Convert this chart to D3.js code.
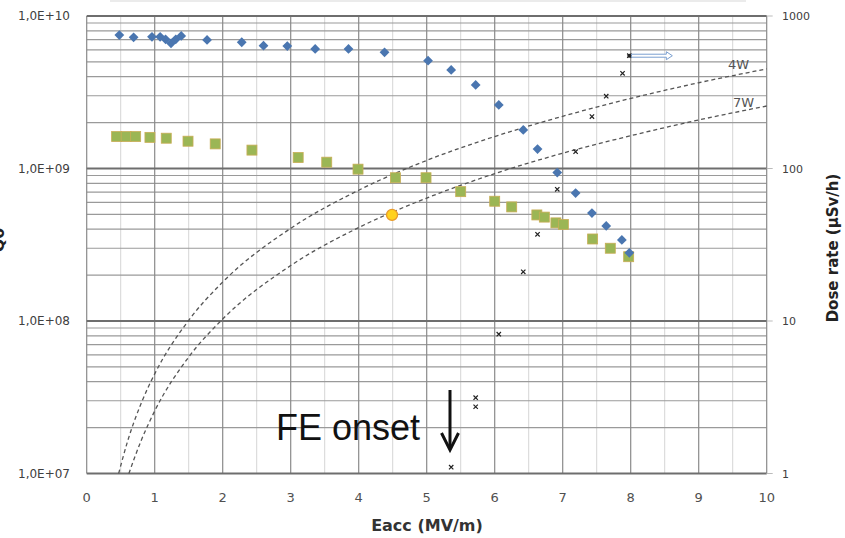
<!DOCTYPE html>
<html>
<head>
<meta charset="utf-8">
<script src="https://cdn.jsdelivr.net/npm/d3@7"></script>
<style>
  body { margin: 0; background: #fff; }
  svg { display: block; }
</style>
</head>
<body>
<div id="chart"></div>
<script>
// Q0 vs Eacc (left axis) and dose rate (right axis)
const eaccQ1 = [0.48, 0.69, 0.96, 1.08, 1.16, 1.24, 1.31, 1.39, 1.77, 2.28, 2.6, 2.95, 3.36, 3.85, 4.38, 5.02, 5.36, 5.72, 6.06, 6.42, 6.63, 6.92, 7.19, 7.43, 7.64, 7.87, 7.98];
const q1 = [7.5e9, 7.25e9, 7.3e9, 7.3e9, 7.03e9, 6.62e9, 7.03e9, 7.4e9, 6.97e9, 6.73e9, 6.39e9, 6.35e9, 6.08e9, 6.08e9, 5.78e9, 5.09e9, 4.43e9, 3.53e9, 2.61e9, 1.79e9, 1.34e9, 9.4e8, 6.9e8, 5.1e8, 4.2e8, 3.4e8, 2.8e8];

const eaccQ2 = [0.44, 0.58, 0.72, 0.93, 1.17, 1.49, 1.89, 2.43, 3.11, 3.53, 3.99, 4.54, 4.99, 5.5, 6.0, 6.25, 6.62, 6.73, 6.9, 7.01, 7.44, 7.7, 7.97];
const q2 = [1.62e9, 1.62e9, 1.62e9, 1.6e9, 1.58e9, 1.51e9, 1.45e9, 1.32e9, 1.18e9, 1.1e9, 9.9e8, 8.7e8, 8.7e8, 7.05e8, 6.1e8, 5.6e8, 4.96e8, 4.8e8, 4.4e8, 4.3e8, 3.45e8, 3.0e8, 2.64e8];

const eaccFE = [4.49];
const qFE = [4.96e8];

const eaccDose = [5.36, 5.72, 5.72, 6.06, 6.42, 6.63, 6.92, 7.19, 7.43, 7.64, 7.88, 7.98];
const dose = [1.1, 2.74, 3.14, 8.2, 21, 37, 73, 129, 219, 298, 421, 549];

const eacc4W = [0.47, 0.6, 0.8, 1, 1.5, 2, 3, 4, 5, 6, 7, 8, 9, 10];
const q4W = [1.0e7, 1.62e7, 2.88e7, 4.5e7, 1.01e8, 1.8e8, 4.05e8, 7.2e8, 1.13e9, 1.62e9, 2.2e9, 2.88e9, 3.65e9, 4.5e9];
const eacc7W = [0.62, 0.8, 1, 1.5, 2, 3, 4, 5, 6, 7, 8, 9, 10];
const q7W = [1.0e7, 1.64e7, 2.57e7, 5.8e7, 1.03e8, 2.31e8, 4.1e8, 6.4e8, 9.25e8, 1.26e9, 1.64e9, 2.08e9, 2.57e9];

const xTicks = [0, 1, 2, 3, 4, 5, 6, 7, 8, 9, 10];
const qTicks = [1e7, 1e8, 1e9, 1e10];
const qTickLabels = ["1,0E+07", "1,0E+08", "1,0E+09", "1,0E+10"];
const doseTicks = [1, 10, 100, 1000];

const width = 845, height = 538;
const plotLeft = 86.7, plotRight = 766.7, plotTop = 16, plotBottom = 473.5;

const svg = d3.select("#chart").append("svg")
    .attr("width", width)
    .attr("height", height);

svg.append("rect").attr("width", width).attr("height", height).attr("fill", "#fff");

const x = d3.scaleLinear().domain([0, 10]).range([plotLeft, plotRight]);
const yQ = d3.scaleLog().domain([1e7, 1e10]).range([plotBottom, plotTop]);
const yD = d3.scaleLog().domain([1, 1000]).range([plotBottom, plotTop]);

// faint remnant line at very top
svg.append("line")
    .attr("x1", 110).attr("x2", 746).attr("y1", 1).attr("y2", 1)
    .attr("stroke", "#e4e4e4").attr("stroke-width", 1.5);

// vertical grid
const grid = svg.append("g");
grid.selectAll(".vminor")
    .data(d3.range(0.5, 10, 1))
    .enter().append("line")
    .attr("x1", d => x(d)).attr("x2", d => x(d))
    .attr("y1", plotTop).attr("y2", plotBottom)
    .attr("stroke", "#d6d6d6").attr("stroke-width", 1);

// horizontal grid (log minors)
const minorQ = yQ.ticks().filter(d => qTicks.indexOf(d) < 0);
grid.selectAll(".hminor")
    .data(minorQ)
    .enter().append("line")
    .attr("x1", plotLeft).attr("x2", plotRight)
    .attr("y1", d => yQ(d)).attr("y2", d => yQ(d))
    .attr("stroke", "#9a9a9a").attr("stroke-width", 1.2);

grid.selectAll(".vmajor")
    .data(xTicks)
    .enter().append("line")
    .attr("x1", d => x(d)).attr("x2", d => x(d))
    .attr("y1", plotTop).attr("y2", plotBottom)
    .attr("stroke", "#8a8a8a").attr("stroke-width", 1.2);

grid.selectAll(".hmajor")
    .data(qTicks)
    .enter().append("line")
    .attr("x1", plotLeft).attr("x2", plotRight)
    .attr("y1", d => yQ(d)).attr("y2", d => yQ(d))
    .attr("stroke", "#6e6e6e").attr("stroke-width", 1.8);

// right ticks
svg.selectAll(".rtick")
    .data(doseTicks)
    .enter().append("line")
    .attr("x1", plotRight).attr("x2", plotRight + 6)
    .attr("y1", d => yD(d)).attr("y2", d => yD(d))
    .attr("stroke", "#bbb");

// tick labels
svg.selectAll(".qlab")
    .data(qTicks)
    .enter().append("text")
    .attr("x", 70).attr("y", d => yQ(d) + 4)
    .attr("text-anchor", "end")
    .attr("font-family", "DejaVu Sans").attr("font-size", 12)
    .attr("fill", "#404040")
    .text((d, i) => qTickLabels[i]);

svg.selectAll(".dlab")
    .data(doseTicks)
    .enter().append("text")
    .attr("x", 782).attr("y", d => yD(d) + 4)
    .attr("font-family", "DejaVu Sans").attr("font-size", 11)
    .attr("fill", "#404040")
    .text(d => d);

svg.selectAll(".xlab")
    .data(xTicks)
    .enter().append("text")
    .attr("x", d => x(d)).attr("y", 502)
    .attr("text-anchor", "middle")
    .attr("font-family", "DejaVu Sans").attr("font-size", 13)
    .attr("fill", "#505050")
    .text(d => d);

// axis titles
svg.append("text")
    .attr("x", 427).attr("y", 531)
    .attr("text-anchor", "middle")
    .attr("font-family", "DejaVu Sans").attr("font-weight", "bold").attr("font-size", 16)
    .attr("fill", "#333")
    .text("Eacc (MV/m)");

svg.append("text")
    .attr("transform", "translate(838,248) rotate(-90)")
    .attr("text-anchor", "middle")
    .attr("font-family", "DejaVu Sans").attr("font-weight", "bold").attr("font-size", 15)
    .attr("fill", "#222")
    .text("Dose rate (µSv/h)");

svg.append("text")
    .attr("transform", "translate(4,240) rotate(-90)")
    .attr("text-anchor", "middle")
    .attr("font-family", "DejaVu Sans").attr("font-weight", "bold").attr("font-size", 16)
    .attr("fill", "#222")
    .text("Q0");

// constant power curves
const powerLine = d3.line()
    .x(d => x(d[0])).y(d => yQ(d[1]))
    .curve(d3.curveMonotoneX);

svg.append("path")
    .attr("d", powerLine(d3.zip(eacc4W, q4W)))
    .attr("fill", "none").attr("stroke", "#555")
    .attr("stroke-width", 1.3).attr("stroke-dasharray", "4,3");
svg.append("path")
    .attr("d", powerLine(d3.zip(eacc7W, q7W)))
    .attr("fill", "none").attr("stroke", "#555")
    .attr("stroke-width", 1.3).attr("stroke-dasharray", "4,3");

svg.append("text")
    .attr("x", 728).attr("y", 69)
    .attr("font-family", "DejaVu Sans").attr("font-size", 13)
    .attr("fill", "#555").text("4W");
svg.append("text")
    .attr("x", 733).attr("y", 107)
    .attr("font-family", "DejaVu Sans").attr("font-size", 13)
    .attr("fill", "#555").text("7W");

// green squares
svg.selectAll(".sq")
    .data(d3.zip(eaccQ2, q2))
    .enter().append("rect")
    .attr("x", d => x(d[0]) - 5).attr("y", d => yQ(d[1]) - 5)
    .attr("width", 10).attr("height", 10)
    .attr("fill", "#9bb655").attr("stroke", "#c9ad55").attr("stroke-width", 0.8);

// blue diamonds (square turned 45 degrees)
const diamond = d3.symbol().type(d3.symbolSquare).size(48);
svg.selectAll(".dm")
    .data(d3.zip(eaccQ1, q1))
    .enter().append("path")
    .attr("d", diamond)
    .attr("transform", d => `translate(${x(d[0])},${yQ(d[1])}) rotate(45)`)
    .attr("fill", "#4a76b0");

// FE onset point
svg.selectAll(".fe")
    .data(d3.zip(eaccFE, qFE))
    .enter().append("circle")
    .attr("cx", d => x(d[0])).attr("cy", d => yQ(d[1]))
    .attr("r", 5.5)
    .attr("fill", "#ffd21f").attr("stroke", "#e89a2a").attr("stroke-width", 1.3);

// dose markers
const cross = d3.symbol().type(d3.symbolX).size(14);
svg.selectAll(".dose")
    .data(d3.zip(eaccDose, dose))
    .enter().append("path")
    .attr("d", cross)
    .attr("transform", d => `translate(${x(d[0])},${yD(d[1])})`)
    .attr("fill", "none").attr("stroke", "#222").attr("stroke-width", 1.2);

// arrow pointing to right axis
const ax = x(eaccDose[eaccDose.length - 1]), ay = yD(dose[dose.length - 1]);
svg.append("path")
    .attr("d", `M${ax + 2},${ay - 1.5} H${ax + 37} V${ay - 4} L${ax + 43},${ay} L${ax + 37},${ay + 4} V${ay + 1.5} H${ax + 2} Z`)
    .attr("fill", "#fff").attr("stroke", "#7a9fd0").attr("stroke-width", 1);
svg.append("circle").attr("cx", ax).attr("cy", ay).attr("r", 2).attr("fill", "#222");

// FE onset annotation
svg.append("text")
    .attr("x", 276).attr("y", 440)
    .attr("font-family", "Liberation Sans").attr("font-size", 36)
    .attr("fill", "#111")
    .text("FE onset");

svg.append("line")
    .attr("x1", 450).attr("x2", 450).attr("y1", 390).attr("y2", 448)
    .attr("stroke", "#111").attr("stroke-width", 3);
svg.append("path")
    .attr("d", "M441.5,433 L450,450 L458.5,433")
    .attr("fill", "none").attr("stroke", "#111").attr("stroke-width", 3);
</script>
</body>
</html>
